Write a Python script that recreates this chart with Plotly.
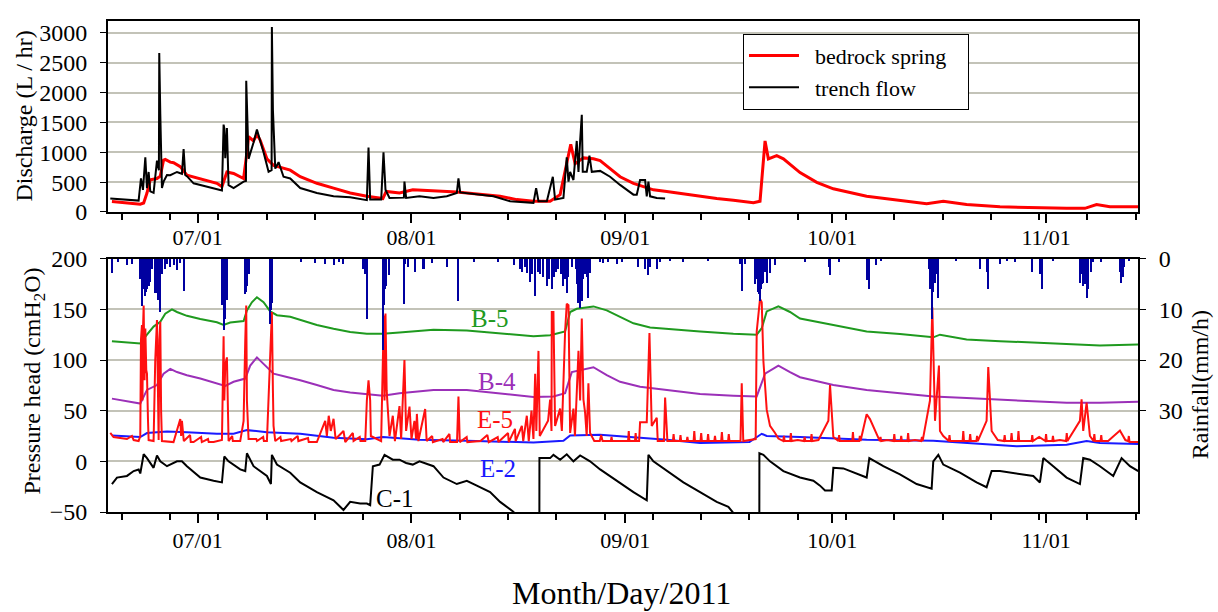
import pandas as pd
import plotly.graph_objects as go

# ---------------- data (time = days since 2011-06-01 00:00) ----------------
spring_day = [17.57, 19.75, 21.68, 22.17, 22.65, 23.13, 24.10, 24.58, 25.06, 25.30, 26.03, 26.51, 27.00, 27.48,
              28.44, 30.38, 32.79, 33.52, 34.24, 35.21, 36.66, 37.14, 37.38, 38.10, 38.59, 39.07, 40.04, 41.00,
              42.45, 43.42, 44.87, 47.28, 49.70, 52.11, 54.53, 56.85, 57.33, 59.26, 61.19, 62.16, 64.19, 67.57,
              73.85, 76.27, 78.68, 81.10, 82.55, 83.27, 83.76, 84.09, 84.72, 85.93, 87.38, 88.35, 89.79, 91.24,
              93.18, 94.63, 96.07, 98.01, 100.42, 102.84, 105.25, 107.67, 110.57, 111.53, 111.92, 112.26, 112.74,
              113.95, 114.92, 117.33, 119.75, 122.16, 126.99, 131.82, 135.69, 138.10, 141.48, 146.32, 151.15,
              155.98, 158.63, 160.32, 162.26, 166.36]
spring_q = [175, 150, 130, 150, 316, 540, 560, 600, 870, 880, 835, 825, 790, 760,
            617, 560, 480, 425, 670, 645, 560, 1000, 1260, 1190, 1300, 1200, 890, 780,
            726, 700, 590, 480, 400, 317, 262, 224, 344, 317, 370, 365, 355, 333,
            262, 207, 180, 180, 290, 700, 1000, 1135, 808, 906, 890, 860, 726, 590,
            480, 426, 371, 344, 300, 262, 224, 197, 153, 180, 800, 1190, 890,
            945, 890, 660, 495, 388, 262, 191, 136, 180, 125, 87, 71,
            60, 60, 125, 87, 87]

trench_day = [17.33, 19.75, 21.44, 21.78, 22.07, 22.41, 22.65, 22.89, 23.13, 23.61, 24.10, 24.38, 24.43, 24.58,
              24.82, 25.06, 25.55, 26.03, 27.00, 27.72, 27.96, 28.20, 28.44, 29.41, 31.34, 33.28, 33.52, 33.76,
              33.86, 34.00, 34.24, 34.48, 35.21, 36.66, 37.00, 37.04, 37.38, 38.10, 38.59, 39.55, 40.28, 40.72,
              40.76, 40.91, 41.25, 41.73, 42.45, 43.42, 44.87, 47.28, 49.70, 52.11, 54.53, 54.77, 55.01, 56.61,
              56.94, 57.23, 57.81, 59.90, 59.98, 60.22, 62.16, 64.19, 66.12, 67.57, 67.81, 68.06, 69.99, 72.89,
              75.30, 78.68, 79.07, 79.41, 80.62, 81.49, 81.82, 83.03, 83.51, 83.76, 84.00, 84.48, 84.96, 85.21,
              85.45, 85.69, 85.83, 86.41, 86.80, 87.14, 88.35, 89.79, 91.24, 93.18, 93.66, 94.14, 94.87, 95.11,
              95.35, 95.59, 96.56, 97.77]
trench_q = [224, 207, 190, 562, 370, 917, 400, 670, 344, 320, 860, 700, 2665, 1654,
            400, 508, 620, 617, 670, 640, 1054, 620, 600, 480, 426, 371, 360, 1463,
            1400, 900, 1408, 450, 400, 508, 520, 2200, 890, 1163, 1381, 1000, 672, 700,
            3100, 1709, 726, 835, 590, 562, 400, 317, 262, 245, 197, 1081, 210, 207,
            1000, 371, 235, 240, 508, 235, 262, 235, 262, 317, 562, 328, 300, 262,
            180, 153, 400, 180, 180, 590, 207, 235, 917, 508, 672, 535, 1190, 672,
            1190, 1627, 672, 672, 945, 672, 688, 590, 453, 290, 290, 535, 535, 262,
            508, 262, 235, 224]

rain_day = [17.57, 18.50, 19.75, 20.47, 21.70, 21.92, 22.00, 22.17, 22.30, 22.41, 22.50, 22.65, 22.75, 22.89,
            23.00, 23.13, 23.40, 23.85, 24.00, 24.10, 24.25, 24.48, 24.60, 24.70, 24.82, 25.30, 25.60, 26.03,
            26.50, 27.00, 27.50, 27.96, 33.52, 33.60, 33.76, 33.90, 34.00, 34.10, 34.24, 36.80, 36.90, 37.00,
            37.14, 37.38, 40.52, 40.60, 40.76, 45.00, 47.00, 48.49, 49.70, 50.50, 51.14, 53.90, 54.30, 54.53,
            56.85, 56.95, 57.10, 57.33, 57.81, 59.98, 60.00, 60.50, 61.53, 62.74, 64.00, 66.12, 67.81, 70.00,
            73.50, 75.79, 76.75, 77.00, 77.40, 77.72, 78.20, 78.50, 78.93, 79.30, 79.65, 80.13, 80.62, 80.90,
            81.34, 81.60, 82.00, 82.30, 82.70, 83.03, 83.20, 83.51, 83.76, 84.20, 84.80, 85.00, 85.21, 85.45,
            85.69, 85.90, 86.20, 86.40, 86.65, 86.90, 88.35, 88.80, 89.50, 90.80, 91.50, 93.90, 94.90, 95.35,
            95.60, 96.56, 97.00, 98.50, 100.40, 104.00, 108.60, 108.88, 109.30, 110.80, 111.00, 111.20, 111.35,
            111.53, 111.65, 111.80, 112.02, 112.25, 112.50, 112.98, 113.70, 118.00, 121.50, 121.68, 123.00,
            126.99, 127.15, 127.38, 128.40, 129.00, 136.00, 136.20, 136.41, 136.60, 136.90, 137.10, 137.38,
            140.00, 143.40, 144.40, 144.62, 146.30, 147.30, 148.50, 151.00, 152.10, 152.35, 154.00, 157.90,
            158.10, 158.40, 158.60, 158.90, 159.10, 159.50, 159.80, 161.00, 163.70, 163.90, 164.10, 164.30,
            165.00]
rain_mm = [2.7, 0.5, 1.2, 0.9, 4.0, 9.2, 8.0, 6.0, 5.5, 7.3, 6.5, 6.0, 4.8, 5.4,
           3.5, 4.5, 2.0, 6.7, 4.0, 6.7, 8.0, 10.5, 6.5, 3.0, 3.0, 2.0, 1.0, 1.5,
           1.2, 2.2, 0.8, 6.3, 8.0, 9.0, 14.0, 10.5, 11.8, 6.0, 8.0, 4.0, 7.0, 6.5,
           5.4, 3.0, 12.8, 10.0, 8.6, 0.5, 0.8, 1.0, 1.2, 0.6, 0.9, 2.0, 3.0, 11.8,
           17.9, 9.0, 6.0, 5.4, 3.1, 8.9, 1.0, 1.5, 2.5, 1.9, 0.8, 1.5, 8.3, 0.5,
           0.5, 1.2, 2.0, 2.5, 1.5, 2.8, 4.5, 3.0, 7.3, 2.5, 3.0, 3.5, 5.4, 4.0,
           6.0, 3.5, 2.5, 2.0, 3.0, 5.4, 4.0, 6.7, 3.5, 1.5, 2.0, 5.0, 8.6, 9.6,
           8.3, 4.0, 3.0, 3.5, 7.6, 2.8, 0.6, 0.8, 0.6, 0.9, 0.5, 1.5, 2.0, 3.1,
           1.5, 1.9, 0.6, 0.4, 0.6, 0.4, 0.9, 6.3, 1.0, 5.0, 4.0, 6.5, 7.0,
           8.3, 6.0, 5.0, 4.7, 2.5, 4.7, 2.8, 1.2, 0.5, 1.5, 3.1, 0.6,
           4.1, 2.5, 6.0, 1.2, 0.4, 2.0, 6.0, 11.8, 6.5, 4.7, 3.0, 7.6,
           0.4, 1.9, 2.5, 6.0, 0.9, 0.3, 0.5, 2.5, 3.0, 6.0, 0.4, 4.7,
           3.0, 5.4, 5.0, 7.6, 6.0, 2.5, 0.6, 0.6, 2.5, 4.7, 3.5, 1.5,
           0.4]

b5_day = [17.57, 21.68, 22.65, 23.61, 24.58, 25.30, 26.27, 27.00, 28.44, 30.38, 32.79, 33.76, 34.72, 36.66,
          37.14, 37.86, 38.59, 39.55, 40.52, 41.49, 43.42, 44.87, 47.28, 49.70, 52.11, 54.53, 56.85, 59.26,
          62.16, 64.19, 69.02, 73.85, 78.68, 81.10, 83.27, 84.00, 84.96, 87.38, 89.31, 91.24, 93.18, 95.59,
          98.01, 102.84, 107.67, 111.05, 111.78, 112.50, 114.19, 115.88, 117.33, 122.16, 126.99, 131.82,
          136.65, 137.62, 141.48, 146.32, 151.15, 155.98, 160.81, 166.36]
b5_h = [118.6, 116.4, 125, 133, 137.8, 145.8, 150, 147.4, 143.6, 140.4, 137.2, 134.6, 137, 138.5,
        149, 157, 161.9, 157, 148, 144.2, 142.6, 139.4, 134.6, 130.8, 127.6, 126, 126, 127.2,
        128.8, 129.8, 129.2, 126, 123.4, 124.4, 128.2, 147.4, 150.6, 152.9, 149, 142.6, 136.2, 132,
        130.5, 128.2, 126, 125, 131.4, 148, 152.9, 147.4, 141, 134.6, 128.2, 125.6,
        122.4, 125, 120.2, 118.6, 117, 115.4, 114.4, 115.4]

b4_day = [17.57, 21.68, 22.65, 24.10, 25.06, 26.03, 27.00, 28.44, 30.38, 32.79, 34.00, 35.21, 36.90, 37.62,
          38.59, 39.55, 41.00, 42.94, 44.87, 47.28, 49.70, 52.11, 54.53, 56.85, 59.26, 62.16, 64.19, 69.02,
          73.85, 78.68, 81.58, 83.27, 84.24, 85.45, 87.38, 89.31, 91.24, 94.14, 98.01, 102.84, 107.67, 111.05,
          112.26, 114.19, 115.88, 117.33, 122.16, 126.99, 131.82, 136.65, 141.48, 146.32, 151.15, 155.98,
          160.81, 166.36]
b4_h = [61.9, 57, 70.5, 75.3, 86.5, 91.3, 88.1, 85, 81.7, 76.9, 74.4, 78.5, 81.7, 94.5,
        102.6, 96.2, 86.5, 83.3, 80.1, 75.3, 70.5, 68, 66.7, 64.8, 67.3, 68.9, 70.5, 70.5,
        67.3, 63.5, 64.1, 67.3, 88.1, 89.7, 92.9, 85, 78.5, 73.7, 70.5, 66.4, 64.8, 64.1,
        86.5, 94.5, 88.1, 83, 75.3, 70.5, 67.3, 64.1, 62.5, 60.9, 59.3, 57.7,
        57.7, 58.7]

e5_day = [17.33, 17.80, 19.75, 20.47, 20.72, 21.44, 21.68, 21.78, 21.92, 22.00, 22.07, 22.17, 22.30, 22.41,
          22.55, 22.65, 22.80, 22.89, 23.61, 23.85, 24.10, 24.25, 24.34, 24.45, 24.58, 24.70, 24.82, 26.50,
          27.24, 27.48, 27.60, 27.72, 27.96, 29.41, 32.31, 33.52, 33.70, 33.76, 33.86, 34.00, 34.24, 34.48,
          36.17, 36.66, 36.90, 37.04, 37.14, 37.38, 40.04, 40.62, 40.76, 40.91, 41.00, 41.25, 47.28, 48.49,
          48.73, 49.00, 49.30, 49.70, 50.00, 51.14, 51.40, 54.30, 54.53, 54.77, 55.01, 55.11, 56.60, 56.85,
          57.00, 57.09, 57.23, 57.40, 57.57, 57.81, 58.29, 58.60, 59.26, 59.50, 59.98, 60.22, 60.71, 61.00,
          61.43, 61.67, 61.78, 62.00, 62.98, 63.20, 67.60, 67.81, 68.00, 71.00, 72.00, 72.20, 77.72, 78.00,
          78.40, 78.68, 78.93, 79.10, 79.41, 79.60, 80.80, 81.10, 81.30, 81.34, 81.58, 81.82, 82.55, 82.80,
          83.27, 83.51, 83.76, 84.00, 84.48, 84.70, 85.21, 85.45, 85.69, 85.93, 86.17, 86.40, 86.65, 86.89,
          87.50, 88.50, 89.00, 90.00, 91.00, 94.14, 95.11, 95.50, 95.83, 96.56, 97.77, 98.10, 99.00, 101.00,
          103.00, 105.00, 107.00, 108.88, 109.10, 110.90, 111.05, 111.53, 111.78, 112.02, 112.50, 112.98,
          113.71, 114.19, 117.00, 120.00, 121.44, 121.68, 122.16, 124.00, 126.99, 127.47, 128.44, 130.00,
          134.00, 136.17, 136.51, 136.90, 137.47, 137.62, 138.10, 140.00, 144.38, 144.62, 145.11, 146.00,
          150.00, 152.00, 155.00, 157.91, 158.15, 158.39, 158.88, 159.36, 162.00, 163.71, 164.50, 166.36]
e5_h = [28, 24, 22, 25, 21, 20, 25, 120, 134.6, 60, 130, 153.8, 80, 131,
        90, 86.5, 40, 21, 20, 100, 139.4, 60, 21, 120, 137.8, 50, 20, 19,
        35, 41.7, 25, 40, 22, 19, 19, 21, 110, 123.4, 60, 95, 102.6, 20,
        20, 40, 120, 153.8, 60, 22, 20, 110, 147.4, 70, 35, 20, 19, 40,
        25, 45, 30, 42, 22, 30, 19, 20, 60, 80, 60, 25, 20, 100,
        144, 60, 146, 70, 55, 25, 45, 20, 54.5, 22, 100, 30, 54, 22,
        40, 22, 46.8, 20, 51.6, 20, 19, 64, 19, 20, 26, 19, 45, 20,
        50, 22, 86.5, 30, 109, 25, 40, 61, 30, 147.4, 147.4, 35, 52, 30,
        128.2, 155.5, 154, 28, 52, 25, 109, 60, 141, 61, 48, 25, 77, 28,
        20, 26, 20, 24, 20, 38.5, 38.5, 126.6, 35, 43, 63, 20, 27, 24,
        28, 25, 27, 77, 20, 22, 128.2, 160.3, 157, 99, 51, 35,
        28, 22.5, 21, 21, 40, 75.3, 24, 20, 46.5, 41.7, 26, 21,
        21, 60, 152, 40, 94.5, 30, 25, 20, 40, 93, 30, 21,
        20, 24, 21, 40, 61.2, 30, 58, 25, 20, 30.4, 21, 19]
# small hair-like excursions of E-5 along its base
e5_hair_day = [28.0, 28.9, 29.0, 30.5, 30.6, 31.5, 31.6, 35.0, 35.1, 38.5, 38.6, 39.5, 39.6, 42.0, 42.1,
               43.5, 43.6, 44.5, 44.6, 46.0, 46.1, 52.5, 52.6, 53.5, 53.6, 64.0, 64.1, 65.5, 65.6, 66.5,
               66.6, 69.0, 69.1, 73.5, 73.6, 75.0, 75.1, 76.0, 76.1, 77.0, 77.2, 88.3, 88.7, 89.9, 90.1,
               92.4, 92.5, 92.6, 93.4, 93.5, 93.6, 94.0, 96.7, 97.6, 98.9, 99.1, 99.9, 100.0, 100.1, 100.9,
               101.1, 101.9, 102.0, 102.1, 102.9, 103.1, 103.9, 104.0, 104.1, 104.9, 105.1, 105.9, 106.0,
               106.1, 106.9, 107.1, 108.7, 114.9, 115.0, 115.1, 115.9, 116.0, 116.1, 117.9, 118.0, 118.1,
               118.9, 119.0, 119.1, 122.9, 123.0, 123.1, 124.9, 125.0, 125.1, 125.9, 126.0, 126.1, 128.9,
               129.0, 129.1, 130.9, 131.0, 131.1, 131.9, 132.0, 132.1, 132.9, 133.0, 133.1, 134.9, 135.0,
               135.1, 138.9, 139.0, 139.1, 140.9, 141.0, 141.1, 141.9, 142.0, 142.1, 142.9, 143.0, 143.1,
               146.9, 147.0, 147.1, 147.9, 148.0, 148.1, 148.9, 149.0, 149.1, 150.9, 151.0, 151.1, 152.9,
               153.0, 153.1, 153.9, 154.0, 154.1, 155.9, 156.0, 156.1, 159.9, 160.0, 160.1, 160.9, 161.0,
               161.1, 164.9, 165.0, 165.1]
e5_hair_h = [20, 26, 19, 24, 19, 22, 19, 25, 20, 22, 20, 24, 20, 24, 20,
             22, 20, 25, 20, 23, 19, 28, 20, 24, 20, 25, 19, 22, 19, 27,
             19, 24, 19, 24, 19, 28, 19, 32, 20, 35, 20, 20, 20, 20, 20,
             20, 30, 20, 20, 28, 20, 20, 20, 20, 20, 20, 20, 26, 20, 20,
             20, 20, 30, 20, 20, 20, 20, 27, 20, 20, 20, 20, 29,
             20, 20, 20, 20, 20, 25, 20, 20, 28, 20, 20, 24, 20,
             20, 27, 20, 20, 26, 20, 20, 29, 20, 20, 25, 20, 20,
             24, 20, 20, 27, 20, 20, 25, 20, 20, 28, 20, 20, 24,
             20, 20, 26, 20, 20, 30, 20, 20, 27, 20, 20, 25, 20,
             20, 26, 20, 20, 28, 20, 20, 30, 20, 20, 26, 20, 20,
             27, 20, 20, 25, 20, 20, 28, 20, 20, 27, 20, 20, 26,
             20, 20, 25, 19]

e2_day = [17.57, 21.68, 22.65, 25.55, 28.44, 32.79, 35.21, 37.14, 40.04, 44.87, 49.70, 54.53, 56.85, 62.16,
          69.02, 78.68, 83.03, 84.00, 88.35, 93.18, 98.01, 102.84, 110.00, 111.78, 112.50, 117.33, 126.99,
          136.65, 141.48, 148.73, 155.98, 158.88, 160.81, 166.36]
e2_h = [25.6, 24, 27.9, 29.5, 28.8, 27.2, 27.2, 30.8, 28.8, 27.2, 23.4, 21.8, 24, 21.2,
        20.2, 18.6, 20.2, 25.6, 26.3, 24, 21.2, 18, 19, 27.2, 25, 24, 21.2,
        20.2, 18, 14.8, 16.4, 20, 18, 17]

c1_day = [17.57, 18.30, 19.75, 20.72, 21.44, 21.68, 22.17, 22.65, 23.61, 24.10, 24.58, 25.55, 27.00, 27.72,
          28.44, 30.38, 32.31, 33.52, 33.86, 34.48, 36.17, 36.90, 37.14, 38.10, 40.04, 40.62, 40.76, 41.49,
          43.42, 44.87, 47.28, 48.73, 49.70, 50.66, 51.14, 52.11, 53.56, 54.53, 55.01, 55.40, 56.37, 57.09,
          58.29, 59.26, 60.22, 61.19, 62.16, 64.19, 65.64, 67.57, 69.02, 70.47, 72.40, 73.85, 74.82, 75.79,
          76.50, 79.54, 79.55, 81.10, 81.58, 82.55, 83.51, 84.48, 85.45, 86.89, 88.35, 90.76, 93.18, 95.11,
          95.35, 96.07, 98.01, 100.42, 102.84, 105.25, 106.94, 107.67, 108.00, 111.43, 111.44, 112.02, 112.98,
          114.92, 117.33, 119.26, 120.23, 120.95, 121.92, 122.16, 123.61, 126.99, 127.38, 129.41, 131.82,
          134.24, 136.41, 136.65, 137.38, 138.10, 140.52, 142.93, 144.38, 145.11, 146.32, 151.15, 152.11,
          152.60, 154.04, 155.98, 157.91, 158.39, 159.36, 160.81, 162.74, 163.95, 165.16, 166.36]
c1_h = [-22.4, -16, -14.4, -9.6, -8, -12, 7, 3.2, -6.4, 5.8, 0, -4.8, 0, 0,
        -4.8, -16, -19.2, -20.8, 4.8, 0, -8, -9.6, 8, -4.8, -14.4, -22.4, 6.4, -3.2,
        -11.2, -20.8, -30.4, -35.3, -38.5, -44.9, -48, -40, -41.7, -41.7, -43.3, -4.8, -3.2, 6.4,
        1.6, 1.6, -1.6, -3.2, 0, -4.8, -16, -22.4, -19.2, -24, -30.4, -40, -44.9, -49.8,
        -60, -60, 3.2, 3.2, 6.4, 1.6, 7, 0, 5.8, 0, -8, -19.2, -30.4, -38.5,
        6.4, 0, -9.6, -20.8, -30.4, -40, -44.9, -51, -60, -60, 8, 6.4, 0,
        -9.6, -16, -19.2, -24, -28.8, -28.8, -6.4, -7, -16, 3.2, -4.8, -12.8,
        -22.4, -27, 0, 6.4, -3.2, -11.2, -20.8, -25.6, -9.6, -9.6, -14.4, -20.8,
        3.2, -4.8, -16, -22.4, 3.2, 1.6, -4.8, -14.4, 3.2, -4.8, -9.6]

series_labels = ["B-5", "B-4", "E-5", "E-2", "C-1"]
label_day = [72.4, 73.4, 73.1, 73.6, 58.6]
label_h = [141.3, 78.9, 41.3, -6.7, -36.5]
label_colors = ["#1f9a1f", "#9b30b8", "#ff1010", "#1a1aff", "#000000"]

month_ticks = ["2011-07-01", "2011-08-01", "2011-09-01", "2011-10-01", "2011-11-01"]
month_labels = ["07/01", "08/01", "09/01", "10/01", "11/01"]

# ---------------- helpers ----------------
BASE = pd.Timestamp("2011-06-01")


def to_dt(days):
    return [BASE + pd.Timedelta(days=float(d)) for d in days]


FONT = "Liberation Serif"
GRID = "#c3c3b8"

e5_pairs = sorted(zip(e5_day + e5_hair_day, e5_h + e5_hair_h))
e5_all_day = [p[0] for p in e5_pairs]
e5_all_h = [p[1] for p in e5_pairs]

fig = go.Figure()

# top panel
fig.add_trace(go.Scatter(x=to_dt(spring_day), y=spring_q, mode="lines",
                         name="\u00a0\u00a0bedrock spring\u00a0\u00a0\u00a0",
                         line=dict(color="#ff0000", width=3), xaxis="x", yaxis="y"))
fig.add_trace(go.Scatter(x=to_dt(trench_day), y=trench_q, mode="lines",
                         name="\u00a0\u00a0trench flow",
                         line=dict(color="#000000", width=2), xaxis="x", yaxis="y"))

# bottom panel: rainfall (right reversed axis)
fig.add_trace(go.Bar(x=to_dt(rain_day), y=rain_mm, base=0, width=7 * 3600 * 1000,
                     marker=dict(color="#0000a0", line=dict(width=0)), showlegend=False,
                     xaxis="x2", yaxis="y3"))
for d, h, c in [(b5_day, b5_h, "#1f9a1f"), (b4_day, b4_h, "#9b30b8"), (e2_day, e2_h, "#1a1aff"),
                (e5_all_day, e5_all_h, "#ff1010"), (c1_day, c1_h, "#000000")]:
    fig.add_trace(go.Scatter(x=to_dt(d), y=h, mode="lines", line=dict(color=c, width=2),
                             showlegend=False, xaxis="x2", yaxis="y2"))

xr = [BASE + pd.Timedelta(days=17.0), BASE + pd.Timedelta(days=166.33)]
minor_vals = list(pd.date_range("2011-06-20", "2011-11-14", freq="7D"))

xcommon = dict(range=xr, type="date", tickmode="array", tickvals=month_ticks, ticktext=month_labels,
               ticks="outside", ticklen=9, tickwidth=1.5, tickcolor="black",
               minor=dict(tickmode="array", tickvals=minor_vals, ticks="outside", ticklen=6,
                          tickwidth=1.5, tickcolor="black", showgrid=False),
               showline=True, linecolor="black", linewidth=2, mirror=True, showgrid=False,
               tickfont=dict(family=FONT, size=22, color="black"))

yfont = dict(family=FONT, size=24, color="black")

fig.update_layout(
    width=1218, height=612,
    margin=dict(l=108, r=80, t=8, b=100),
    paper_bgcolor="white", plot_bgcolor="white",
    font=dict(family=FONT, color="black"),
    bargap=0,
    xaxis=dict(anchor="y", ticklabelstandoff=-4, **xcommon),
    xaxis2=dict(anchor="y2", ticklabelstandoff=-1, **xcommon),
    yaxis=dict(domain=[0.6111, 1.0], range=[0, 3200], tickvals=[0, 500, 1000, 1500, 2000, 2500, 3000],
               showgrid=True, gridcolor=GRID, gridwidth=2, zeroline=False,
               showline=True, linecolor="black", linewidth=2, mirror=True,
               ticks="outside", ticklen=6, tickcolor="black", tickfont=yfont, ticklabelstandoff=8),
    yaxis2=dict(domain=[0.0, 0.5159], range=[-50, 200], tickvals=[-50, 0, 50, 100, 150, 200],
                showgrid=True, gridcolor=GRID, gridwidth=2, zeroline=False,
                showline=True, linecolor="black", linewidth=2, mirror=True,
                ticks="outside", ticklen=6, tickcolor="black", tickfont=yfont, ticklabelstandoff=8),
    yaxis3=dict(overlaying="y2", side="right", anchor="x2", range=[50, 0], tickvals=[0, 10, 20, 30],
                showgrid=False, zeroline=False, showline=True, linecolor="black", linewidth=2,
                ticks="outside", ticklen=6, tickcolor="black", tickfont=yfont, ticklabelstandoff=8),
    legend=dict(x=0.6165, y=0.974, xanchor="left", yanchor="top", bgcolor="white",
                bordercolor="black", borderwidth=1, itemwidth=50,
                font=dict(family=FONT, size=22, color="black")),
    showlegend=True,
)

annotations = []
for t, d, h, c in zip(series_labels, label_day, label_h, label_colors):
    annotations.append(dict(text=t, x=BASE + pd.Timedelta(days=d), y=h, xref="x2", yref="y2",
                            xanchor="center", yanchor="middle",
                            showarrow=False, font=dict(family=FONT, size=25, color=c)))
annotations += [
    dict(text="Discharge (L / hr)", x=-0.0816, y=0.8075, xref="paper", yref="paper", textangle=-90,
         xanchor="center", yanchor="middle",
         showarrow=False, font=dict(family=FONT, size=24, color="black")),
    dict(text="Pressure head (cmH<sub>2</sub>O)", x=-0.0718, y=0.2659, xref="paper", yref="paper",
         textangle=-90, xanchor="center", yanchor="middle",
         showarrow=False, font=dict(family=FONT, size=24, color="black")),
    dict(text="Rainfall(mm/h)", x=1.0602, y=0.258, xref="paper", yref="paper", textangle=-90,
         xanchor="center", yanchor="middle",
         showarrow=False, font=dict(family=FONT, size=24, color="black")),
    dict(text="Month/Day/2011", x=0.499, y=-0.1647, xref="paper", yref="paper",
         xanchor="center", yanchor="middle",
         showarrow=False, font=dict(family=FONT, size=32, color="black")),
]
fig.update_layout(annotations=annotations)

fig.write_html("out.html")
